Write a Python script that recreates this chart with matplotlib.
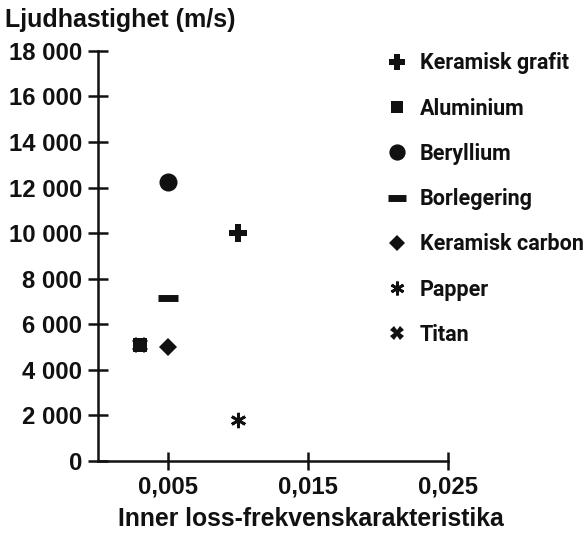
import matplotlib
matplotlib.use("Agg")
import matplotlib.pyplot as plt

materials = ["Keramisk grafit", "Aluminium", "Beryllium", "Borlegering",
             "Keramisk carbon", "Papper", "Titan"]
loss_factor = [0.010, 0.003, 0.005, 0.005, 0.005, 0.010, 0.003]
sound_speed = [10000, 5100, 12250, 7150, 5000, 1800, 5100]

x_ticks = [0.005, 0.015, 0.025]
x_tick_labels = ["0,005", "0,015", "0,025"]
y_ticks = [0, 2000, 4000, 6000, 8000, 10000, 12000, 14000, 16000, 18000]
y_tick_labels = ["0", "2 000", "4 000", "6 000", "8 000", "10 000",
                 "12 000", "14 000", "16 000", "18 000"]

main_font = ["Liberation Sans", "DejaVu Sans"]
legend_font = ["Roboto", "DejaVu Sans"]

styles = [
    dict(marker="P", ms=13, mew=0),
    dict(marker="s", ms=10, mew=0),
    dict(marker="o", ms=13, mew=0),
    dict(marker="_", ms=15, mew=5),
    dict(marker="D", ms=9.5, mew=0),
    dict(marker=(6, 2, 0), ms=11, mew=2.0),
    dict(marker="X", ms=11, mew=0),
]

fig = plt.figure(figsize=(5.87, 5.34), dpi=100)
ax = fig.add_axes([0.167, 0.1367, 0.596, 0.768])

handles = []
for name, xv, yv, st in zip(materials, loss_factor, sound_speed, styles):
    h, = ax.plot([xv], [yv], linestyle="none", color="#111111",
                 marker=st["marker"], markersize=st["ms"],
                 markeredgewidth=st["mew"], label=name, clip_on=False)
    handles.append(h)

ax.set_xlim(0, 0.025)
ax.set_ylim(0, 18000)
ax.spines["top"].set_visible(False)
ax.spines["right"].set_visible(False)
for s in ("left", "bottom"):
    ax.spines[s].set_linewidth(1.8)
    ax.spines[s].set_color("#111111")

ax.set_xticks(x_ticks)
ax.set_xticklabels(x_tick_labels, family=main_font, fontweight="bold", fontsize=17.2)
ax.set_yticks(y_ticks)
ax.set_yticklabels(y_tick_labels, family=main_font, fontweight="bold", fontsize=17.2)
ax.tick_params(axis="y", direction="inout", length=14.5, width=1.8, color="#111111",
               labelcolor="#111111", pad=4)
ax.tick_params(axis="x", direction="inout", length=12.5, width=1.8, color="#111111",
               labelcolor="#111111", pad=4)

fig.text(0.009, 0.962, "Ljudhastighet (m/s)", family=main_font,
         fontweight="bold", fontsize=18, color="#111111", va="center", ha="left")
fig.text(0.53, 0.028, "Inner loss-frekvenskarakteristika", family=main_font,
         fontweight="bold", fontsize=17.8, color="#111111", va="center", ha="center")

leg = fig.legend(handles=handles, loc="upper left", bbox_to_anchor=(0.625, 0.938),
                 frameon=False, handletextpad=0.55, labelspacing=1.08,
                 handlelength=1.0, markerscale=0.9,
                 prop=dict(family=legend_font, weight="bold", size=15.5))
for t in leg.get_texts():
    t.set_color("#111111")

fig.savefig("out.png", dpi=100)
